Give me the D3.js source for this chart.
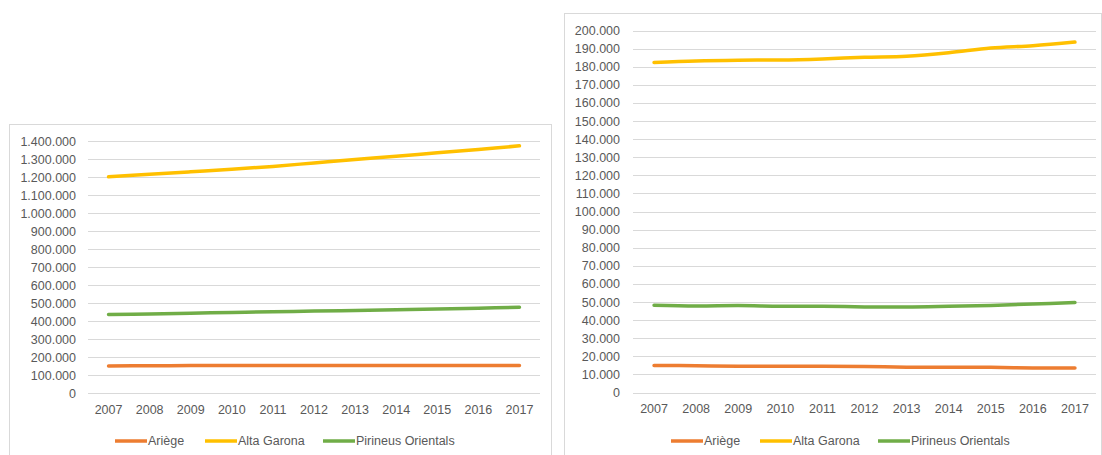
<!DOCTYPE html>
<html>
<head>
<meta charset="utf-8">
<script src="https://cdn.jsdelivr.net/npm/d3@7"></script>
<style>
body { margin: 0; background: #fff; }
text { font-family: "Liberation Sans", Arial, sans-serif; fill: #595959; }
</style>
</head>
<body>
<svg id="chart" width="1102" height="455"></svg>
<script>
var years = ["2007", "2008", "2009", "2010", "2011", "2012", "2013", "2014", "2015", "2016", "2017"];
var seriesNames = ["Ariège", "Alta Garona", "Pirineus Orientals"];
var seriesColors = ["#ED7D31", "#FFC000", "#70AD47"];

// left chart
var ariegeLeft = [150500, 151000, 152500, 152800, 152600, 152700, 152900, 153000, 153100, 153200, 153200];
var altaGaronaLeft = [1201000, 1215000, 1229000, 1243000, 1259000, 1278000, 1297000, 1315000, 1335000, 1353000, 1373000];
var pirineusLeft = [436000, 439500, 443500, 447500, 451500, 455000, 459000, 463000, 467000, 471500, 476000];
var leftTicks = d3.range(0, 1400001, 100000);

// right chart
var ariegeRight = [14900, 14800, 14500, 14500, 14500, 14400, 14000, 14000, 13900, 13600, 13600];
var altaGaronaRight = [182300, 183200, 183600, 183700, 184300, 185200, 185800, 187700, 190300, 191600, 193600];
var pirineusRight = [48200, 47800, 48000, 47700, 47700, 47300, 47200, 47600, 48100, 48900, 49700];
var rightTicks = d3.range(0, 200001, 10000);

var fmt = d3.formatLocale({ decimal: ",", thousands: ".", grouping: [3], currency: ["", ""] }).format(",d");

var svg = d3.select("#chart");

function drawChart(cfg) {

	var g = svg.append("g");

	// outer frame
	g.append("rect") //
	.attr("x", cfg.box[0] + 0.5) //
	.attr("y", cfg.box[1] + 0.5) //
	.attr("width", cfg.box[2] - cfg.box[0]) //
	.attr("height", cfg.box[3] - cfg.box[1]) //
	.attr("fill", "#fff") //
	.attr("stroke", "#D9D9D9");

	var x = d3.scaleBand().domain(years).range([ cfg.left, cfg.right ]);
	var y = d3.scaleLinear().domain([ 0, cfg.max ]).range([ cfg.bottom, cfg.top ]);

	// gridlines
	g.selectAll("line.grid").data(cfg.ticks).enter().append("line") //
	.attr("class", "grid") //
	.attr("x1", cfg.left) //
	.attr("x2", cfg.right) //
	.attr("y1", function(d) { return Math.round(y(d)) + 0.5; }) //
	.attr("y2", function(d) { return Math.round(y(d)) + 0.5; }) //
	.attr("stroke", "#D9D9D9") //
	.attr("stroke-width", 1);

	// y axis labels
	var yAxis = d3.axisLeft(y).tickValues(cfg.ticks).tickFormat(fmt).tickSize(0).tickPadding(0);
	var ya = g.append("g").attr("transform", "translate(" + cfg.labelRight + ",0)").call(yAxis);
	ya.select(".domain").remove();
	ya.selectAll("text").style("font-size", "12.5px").attr("fill", "#595959");

	// x axis labels
	var xAxis = d3.axisBottom(x).tickSize(0).tickPadding(0);
	var xa = g.append("g").attr("transform", "translate(0," + (cfg.bottom + 12) + ")").call(xAxis);
	xa.select(".domain").remove();
	xa.selectAll("text").style("font-size", "12.5px").attr("fill", "#595959");

	var line = d3.line() //
	.x(function(d, i) { return x(years[i]) + x.bandwidth() / 2; }) //
	.y(function(d) { return y(d); }) //
	.curve(d3.curveCatmullRom.alpha(0.5));

	cfg.series.forEach(function(values, k) {
		g.append("path") //
		.datum(values) //
		.attr("d", line) //
		.attr("fill", "none") //
		.attr("stroke", seriesColors[k]) //
		.attr("stroke-width", 3.5) //
		.attr("stroke-linecap", "round");
	});

	// legend
	cfg.legendX.forEach(function(lx, k) {
		g.append("line") //
		.attr("x1", lx) //
		.attr("x2", lx + 32) //
		.attr("y1", cfg.legendY) //
		.attr("y2", cfg.legendY) //
		.attr("stroke", seriesColors[k]) //
		.attr("stroke-width", 3.5);
		g.append("text") //
		.attr("x", lx + 33) //
		.attr("y", cfg.legendY) //
		.attr("dy", "0.35em") //
		.style("font-size", "12.5px") //
		.text(seriesNames[k]);
	});

}// END: drawChart

drawChart({
	box : [ 9, 124, 551, 470 ],
	left : 88,
	right : 540,
	top : 141,
	bottom : 393,
	labelRight : 76,
	max : 1400000,
	ticks : leftTicks,
	series : [ ariegeLeft, altaGaronaLeft, pirineusLeft ],
	legendX : [ 115, 205, 323 ],
	legendY : 441
});

drawChart({
	box : [ 564, 13, 1101, 470 ],
	left : 633,
	right : 1096,
	top : 30.5,
	bottom : 392.5,
	labelRight : 620,
	max : 200000,
	ticks : rightTicks,
	series : [ ariegeRight, altaGaronaRight, pirineusRight ],
	legendX : [ 671, 760, 878 ],
	legendY : 441
});
</script>
</body>
</html>
